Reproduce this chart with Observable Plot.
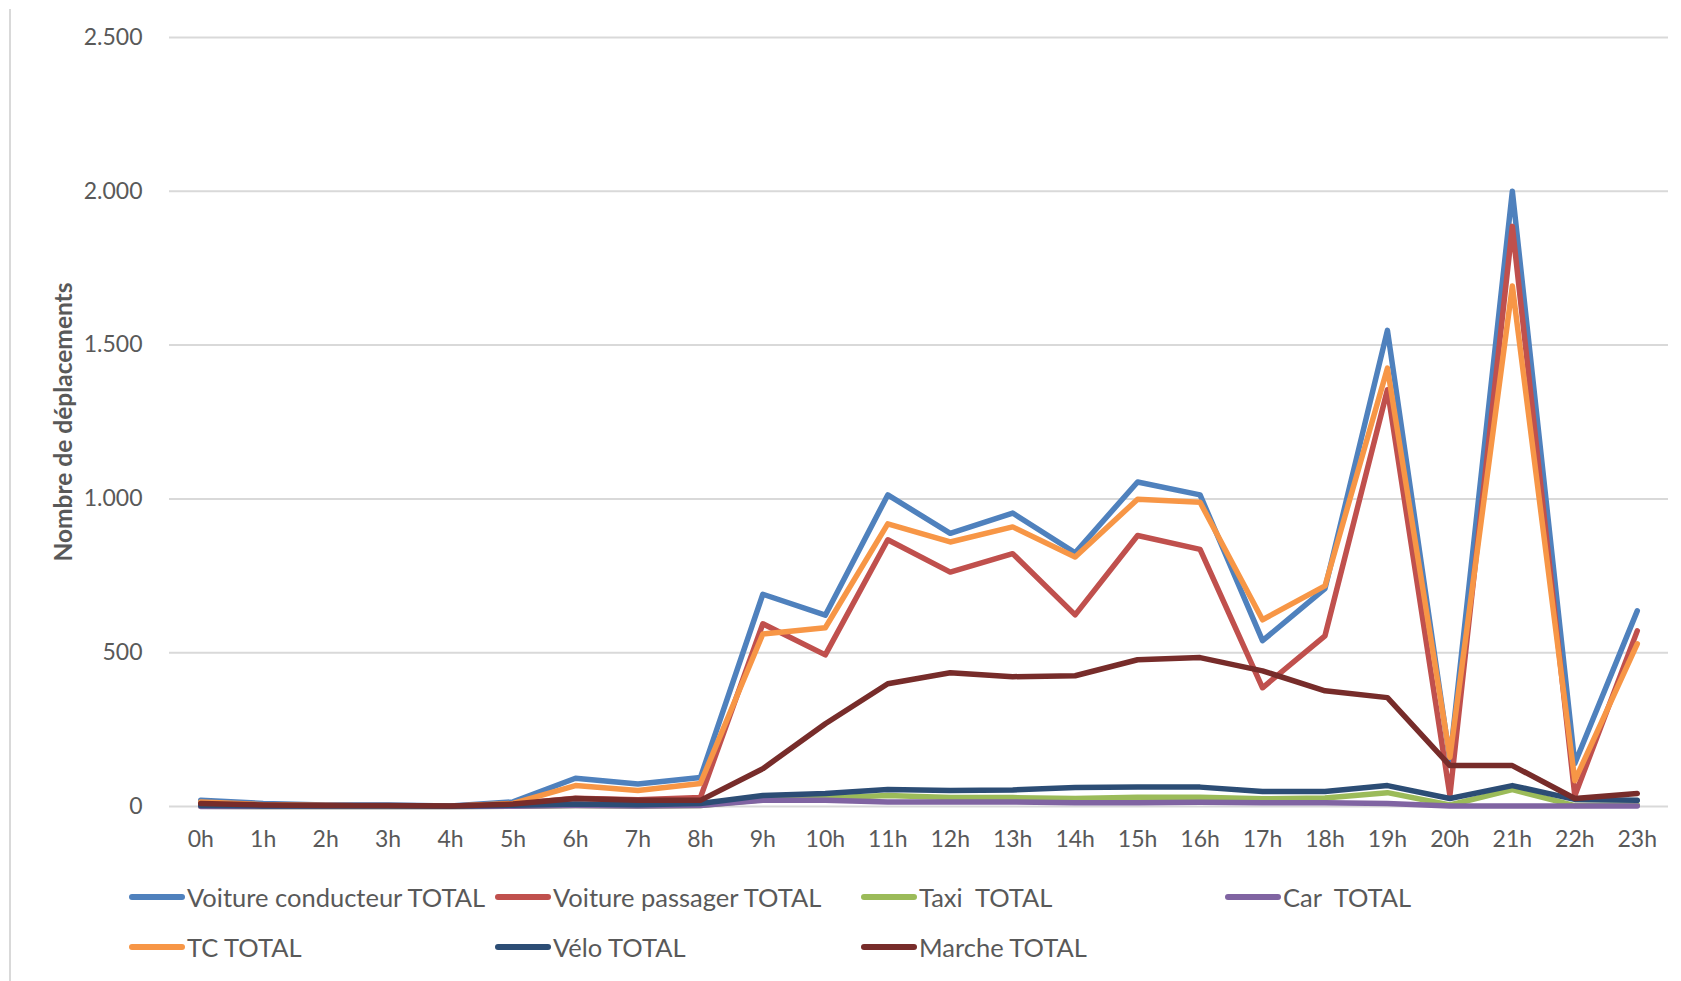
<!DOCTYPE html>
<html>
<head>
<meta charset="utf-8">
<script src="https://cdn.jsdelivr.net/npm/d3@7"></script>
<script src="https://cdn.jsdelivr.net/npm/@observablehq/plot@0.6"></script>
<style>
  html, body { margin: 0; padding: 0; background: #fff; }
  #wrap { position: relative; width: 1681px; height: 981px; overflow: hidden; font-family: Lato, "Open Sans", sans-serif; }
  #border { position: absolute; left: 9px; top: 9px; width: 2px; height: 972px; background: #D9D9D9; }
  #chart { position: absolute; left: 0; top: 0; }
  .leg { position: absolute; display: flex; align-items: center; height: 30px; font-size: 25.5px; color: #595959; white-space: pre; }
  .sw { width: 56px; height: 6px; border-radius: 3px; margin-right: 2px; }
</style>
</head>
<body>
<div id="wrap">
  <div id="border"></div>
  <div id="chart"></div>
</div>
<script>
const hours = ["0h","1h","2h","3h","4h","5h","6h","7h","8h","9h","10h","11h","12h","13h","14h","15h","16h","17h","18h","19h","20h","21h","22h","23h"];
const seriesNames = ["Voiture conducteur TOTAL","Voiture passager TOTAL","Taxi  TOTAL","Car  TOTAL","TC TOTAL","Vélo TOTAL","Marche TOTAL"];
const seriesColors = ["#4F81BD","#C0504D","#9BBB59","#8064A2","#F79646","#2C4D75","#772C2A"];
const yTicks = [0, 500, 1000, 1500, 2000, 2500];

const conducteur = [20,10,5,5,2,15,92,73,94,690,622,1013,888,954,825,1055,1013,539,708,1548,150,2000,140,636];
const passager   = [5,3,3,2,1,8,27,22,29,594,493,867,762,822,623,881,836,386,555,1355,36,1886,35,571];
const taxi       = [1,0,0,0,0,1,3,2,3,22,28,36,29,29,26,30,30,25,28,45,5,55,3,5];
const car        = [0,0,0,0,0,1,3,2,3,20,20,15,15,15,12,12,14,12,12,10,2,2,2,2];
const tc         = [15,6,3,2,1,10,68,52,75,561,581,919,860,909,811,999,989,607,717,1425,160,1692,84,529];
const velo       = [3,2,2,2,1,4,8,6,10,36,42,55,52,54,62,63,63,49,49,68,26,68,23,20];
const marche     = [10,5,3,3,2,8,26,20,20,123,269,399,435,422,425,477,484,441,376,354,133,133,26,42];

const allSeries = [conducteur, passager, taxi, car, tc, velo, marche];
const fmt = d => d3.format(",")(d).replace(/,/g, ".");

const lineMarks = allSeries.map((vals, i) =>
  Plot.line(hours.map((h, j) => ({hour: h, value: vals[j]})), {
    x: "hour", y: "value", stroke: seriesColors[i], strokeWidth: 5.5,
    strokeLinejoin: "round", strokeLinecap: "round"
  })
);

const chart = Plot.plot({
  width: 1681,
  height: 870,
  marginLeft: 169,
  marginRight: 13,
  marginTop: 37,
  marginBottom: 64,
  style: { fontFamily: "Lato, 'Open Sans', sans-serif", background: "transparent", color: "#595959" },
  x: { type: "point", domain: hours, padding: 0.5, round: false },
  y: { domain: [0, 2500] },
  marks: [
    Plot.ruleY(yTicks, { stroke: "#D9D9D9", strokeWidth: 2 }),
    Plot.axisX({ tickSize: 0, tickPadding: 24, fontSize: 23, label: null, fill: "#595959" }),
    Plot.axisY({ ticks: yTicks, tickSize: 0, tickPadding: 27, fontSize: 23, tickFormat: fmt, label: null, fill: "#595959" }),
    ...lineMarks
  ]
});
document.getElementById("chart").appendChild(chart);

// y-axis title
const svg = d3.select(chart);
svg.append("text")
  .attr("transform", "translate(62,422) rotate(-90)")
  .attr("text-anchor", "middle")
  .attr("dominant-baseline", "central")
  .attr("font-weight", "bold")
  .attr("font-size", 24.5)
  .attr("fill", "#595959")
  .text("Nombre de déplacements");

// legend
const legPos = [[129, 897], [495, 897], [861, 897], [1225, 897], [129, 947], [495, 947], [861, 947]];
const wrap = document.getElementById("wrap");
seriesNames.forEach((name, i) => {
  const d = document.createElement("div");
  d.className = "leg";
  d.style.left = legPos[i][0] + "px";
  d.style.top = (legPos[i][1] - 15) + "px";
  const sw = document.createElement("div");
  sw.className = "sw";
  sw.style.background = seriesColors[i];
  const t = document.createElement("span");
  t.textContent = name;
  d.appendChild(sw);
  d.appendChild(t);
  wrap.appendChild(d);
});
</script>
</body>
</html>
